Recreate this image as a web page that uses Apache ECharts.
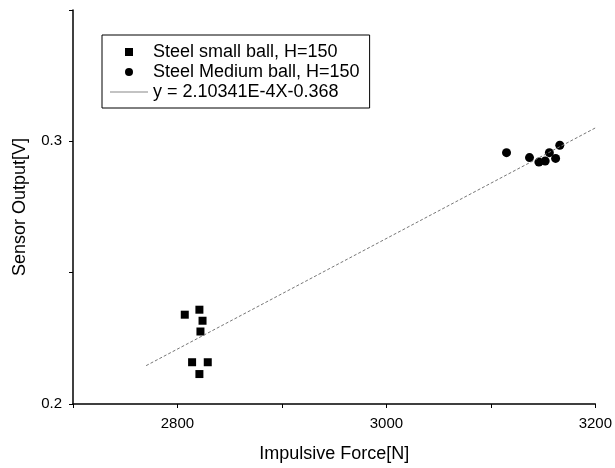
<!DOCTYPE html>
<html>
<head>
<meta charset="utf-8">
<script src="https://cdn.jsdelivr.net/npm/echarts@6/dist/echarts.min.js"></script>
<style>html,body{margin:0;padding:0;background:#fff}#c{width:615px;height:468px}</style>
</head>
<body>
<div id="c"></div>
<script>
// Data
const smallBallX = [2807, 2821, 2824, 2822, 2814, 2829, 2821];
const smallBallY = [0.2340, 0.2359, 0.2317, 0.2276, 0.2159, 0.2159, 0.2114];
const mediumBallX = [3115, 3137, 3146, 3152, 3156, 3162, 3166];
const mediumBallY = [0.2957, 0.2938, 0.2921, 0.2925, 0.2957, 0.2935, 0.2985];
const fitX = [2770, 3200];
const fitY = [0.2146, 0.3051];
const xTickLabels = [2800, 3000, 3200];
const yTickLabels = [0.2, 0.3];
const seriesNames = ['Steel small ball, H=150', 'Steel Medium ball, H=150', 'y = 2.10341E-4X-0.368'];

const FONT = 'Arial, "Liberation Sans", sans-serif';
const pairs = (xs, ys) => xs.map((x, i) => [x, ys[i]]);

const chart = echarts.init(document.getElementById('c'), null, {renderer: 'canvas'});
chart.setOption({
  animation: false,
  backgroundColor: '#fff',
  textStyle: {fontFamily: FONT, color: '#000'},
  grid: {left: 73, right: 16, top: 10, bottom: 63, containLabel: false},
  legend: {
    orient: 'vertical',
    left: 102, top: 35,
    padding: [8, 10, 7, 8],
    itemWidth: 38, itemHeight: 8,
    itemGap: 2,
    symbolKeepAspect: true,
    borderColor: '#000', borderWidth: 1,
    textStyle: {fontFamily: FONT, fontSize: 18, color: '#000'},
    selectedMode: false,
    data: [
      {name: seriesNames[0], icon: 'path://M0,0L10,0L10,10L0,10Z', symbolKeepAspect: true},
      {name: seriesNames[1], icon: 'path://M5,0A5,5,0,1,1,4.99,0Z', symbolKeepAspect: true},
      {name: seriesNames[2], icon: 'path://M0,0L38,0L38,1L0,1Z', itemStyle: {color: '#888'}}
    ]
  },
  xAxis: {
    type: 'value', min: 2700, max: 3200, interval: 100,
    name: 'Impulsive Force[N]', nameLocation: 'middle', nameGap: 41,
    nameTextStyle: {fontFamily: FONT, fontSize: 18, color: '#000'},
    axisLine: {show: true, onZero: false, lineStyle: {color: '#000', width: 1.5}},
    axisTick: {show: true, inside: false, length: 4, lineStyle: {color: '#000', width: 1}},
    axisLabel: {
      margin: 12, fontFamily: FONT, fontSize: 15, color: '#000',
      formatter: v => xTickLabels.indexOf(Math.round(v)) >= 0 ? String(Math.round(v)) : ''
    },
    splitLine: {show: false}
  },
  yAxis: {
    type: 'value', min: 0.2, max: 0.35, interval: 0.05,
    name: 'Sensor Output[V]', nameLocation: 'middle', nameGap: 44,
    nameTextStyle: {fontFamily: FONT, fontSize: 18, color: '#000'},
    axisLine: {show: true, onZero: false, lineStyle: {color: '#000', width: 1.5}},
    axisTick: {show: true, inside: false, length: 4, lineStyle: {color: '#000', width: 1}},
    axisLabel: {
      margin: 11, fontFamily: FONT, fontSize: 15, color: '#000',
      formatter: v => {
        const r = Math.round(v * 100) / 100;
        return yTickLabels.some(t => Math.abs(t - r) < 1e-9) && Math.abs(v - r) < 1e-9 ? r.toFixed(1) : '';
      }
    },
    splitLine: {show: false}
  },
  series: [
    {
      name: seriesNames[0], type: 'scatter', symbol: 'rect', symbolSize: 8,
      itemStyle: {color: '#000', opacity: 1},
      data: pairs(smallBallX, smallBallY)
    },
    {
      name: seriesNames[1], type: 'scatter', symbol: 'circle', symbolSize: 9,
      itemStyle: {color: '#000', opacity: 1},
      data: pairs(mediumBallX, mediumBallY)
    },
    {
      name: seriesNames[2], type: 'line', showSymbol: false, symbol: 'none',
      lineStyle: {color: '#777', width: 1, type: [3, 2]},
      itemStyle: {color: '#777'},
      data: pairs(fitX, fitY)
    }
  ]
});
</script>
</body>
</html>
